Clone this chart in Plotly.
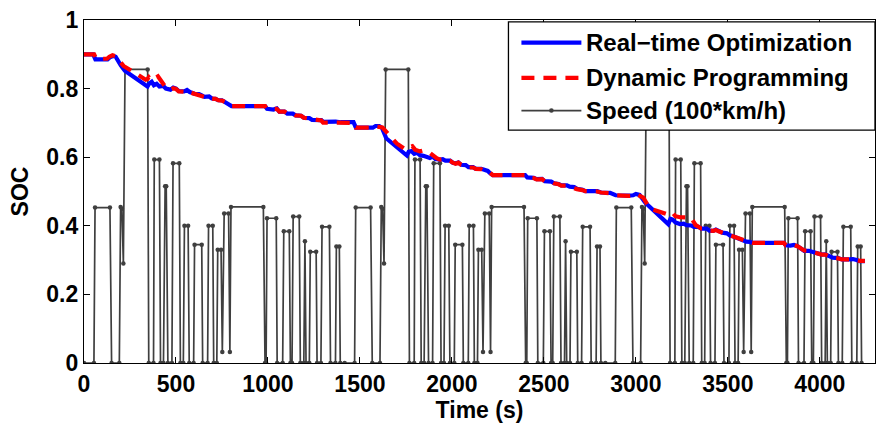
import plotly.graph_objects as go

# ---- drive cycle (one repetition), speed in 100*km/h ----
cycle_length = 1417
n_cycles = 3
cycle_t = [0, 54, 60, 141, 150, 192, 199, 206, 214, 223, 346, 352, 378, 382, 410, 416,
           432, 441, 447, 456, 478, 484, 518, 524, 540, 546, 566, 572, 596, 601, 640, 645,
           672, 677, 700, 705, 722, 727, 745, 752, 762, 786, 793, 799, 975, 984, 990, 995,
           1045, 1050, 1080, 1086, 1116, 1122, 1131, 1137, 1170, 1176, 1195, 1201, 1207,
           1225, 1230, 1262, 1267, 1288, 1294, 1334, 1340, 1367, 1372, 1388, 1393]
cycle_v = [0, 0, 0.453, 0.453, 0, 0, 0.455, 0.45, 0.29, 0.856, 0.856, 0, 0, 0.593, 0.593, 0,
           0, 0.515, 0.515, 0, 0, 0.582, 0.582, 0, 0, 0.40, 0.40, 0, 0, 0.345, 0.345, 0,
           0, 0.40, 0.40, 0, 0, 0.33, 0.33, 0.032, 0.436, 0.436, 0.032, 0.455, 0.455, 0, 0, 0.422,
           0.422, 0, 0, 0.384, 0.384, 0, 0, 0.427, 0.427, 0, 0, 0.355, 0,
           0, 0.324, 0.324, 0, 0, 0.397, 0.397, 0, 0, 0.34, 0.34, 0]

# ---- state of charge, real-time optimization ----
soc_rt_t = [0, 50, 62, 128, 140, 158, 172, 185, 200, 222, 345, 355, 368, 380, 395, 410, 430, 445,
            470, 485, 500, 515, 545, 560, 575, 600, 625, 640, 655, 680, 695, 715, 730, 750, 770,
            790, 802, 984, 995, 1030, 1048, 1062, 1090, 1105, 1135, 1150, 1180, 1195, 1225, 1240,
            1265, 1290, 1300, 1335, 1350, 1368, 1395, 1465, 1478,
            1570, 1585, 1605, 1620, 1643, 1755, 1765, 1780, 1795, 1810, 1825, 1845, 1860, 1880,
            1895, 1910, 1935, 1950, 1965, 1990, 2005, 2020, 2035, 2050, 2075, 2090, 2115, 2130,
            2160, 2175, 2195, 2210, 2222, 2398, 2410, 2445, 2460, 2490, 2505, 2540, 2555, 2580,
            2595, 2625, 2640, 2665, 2680, 2710, 2725, 2790, 2810, 2860, 2875, 2890, 2960, 2985,
            3000, 3020, 3040, 3050,
            3176, 3188, 3200, 3215, 3240, 3260, 3275, 3300, 3315, 3340, 3355, 3385, 3400, 3420,
            3435, 3450, 3470, 3495, 3510, 3525, 3545, 3565, 3585, 3600, 3620, 3636, 3805, 3815,
            3840, 3860, 3880, 3900, 3915, 3940, 3960, 3985, 4010, 4030, 4045, 4070, 4100, 4120,
            4160, 4180, 4200, 4215, 4245]
soc_rt = [0.900, 0.900, 0.885, 0.885, 0.891, 0.895, 0.893, 0.880, 0.868, 0.852, 0.806, 0.815,
          0.820, 0.810, 0.814, 0.806, 0.808, 0.800, 0.797, 0.803, 0.800, 0.793, 0.792, 0.796,
          0.790, 0.785, 0.784, 0.780, 0.776, 0.777, 0.771, 0.770, 0.766, 0.766, 0.760, 0.756,
          0.749, 0.749, 0.741, 0.739, 0.742, 0.733, 0.733, 0.727, 0.727, 0.722, 0.721, 0.715,
          0.714, 0.709, 0.710, 0.708, 0.703, 0.703, 0.706, 0.704, 0.702, 0.702, 0.686,
          0.686, 0.691, 0.691, 0.685, 0.655, 0.605, 0.616, 0.618, 0.610, 0.613, 0.606, 0.604,
          0.600, 0.598, 0.602, 0.595, 0.593, 0.594, 0.590, 0.590, 0.584, 0.582, 0.585, 0.578,
          0.577, 0.571, 0.571, 0.566, 0.566, 0.562, 0.560, 0.552, 0.548, 0.548, 0.541, 0.540,
          0.536, 0.537, 0.530, 0.529, 0.524, 0.522, 0.518, 0.518, 0.514, 0.513, 0.508, 0.505,
          0.501, 0.501, 0.497, 0.496, 0.491, 0.489, 0.488, 0.489, 0.493, 0.490, 0.476, 0.468,
          0.405, 0.420, 0.418, 0.410, 0.405, 0.406, 0.402, 0.401, 0.397, 0.397, 0.392, 0.392,
          0.386, 0.385, 0.389, 0.385, 0.380, 0.378, 0.372, 0.370, 0.366, 0.362, 0.356, 0.354,
          0.353, 0.350, 0.350, 0.343, 0.342, 0.344, 0.340, 0.334, 0.327, 0.327, 0.323, 0.318,
          0.316, 0.317, 0.312, 0.307, 0.306, 0.302, 0.302, 0.303, 0.300, 0.297, 0.297]

# ---- state of charge, dynamic programming ----
soc_dp_t = [0, 55, 66, 125, 138, 155, 170, 190, 215, 240, 270, 300, 335, 345, 352, 362, 375, 390,
            402, 415, 430, 445, 470, 485, 500, 515, 545, 560, 575, 600, 625, 640, 655, 680, 695,
            715, 730, 750, 770, 790, 802, 984, 995, 1030, 1048, 1062, 1090, 1105, 1135, 1150,
            1180, 1195, 1225, 1240, 1265, 1290, 1300, 1335, 1350, 1368, 1395, 1465, 1478,
            1570, 1585, 1605, 1622, 1640, 1700, 1750, 1765, 1785, 1800, 1825, 1845, 1870, 1885,
            1900, 1917, 1935, 1950, 1965, 1990, 2005, 2020, 2035, 2050, 2075, 2090, 2115, 2130,
            2160, 2175, 2195, 2210, 2222, 2398, 2410, 2445, 2460, 2490, 2505, 2540, 2555, 2580,
            2595, 2625, 2640, 2665, 2680, 2710, 2725, 2790, 2810, 2860, 2875, 2890, 2960, 2985,
            3000, 3020, 3040, 3076, 3150, 3170, 3185, 3200, 3215, 3240, 3300, 3325, 3340, 3355,
            3385, 3400, 3420, 3435, 3450, 3470, 3495, 3510, 3525, 3545, 3565, 3585, 3600, 3620,
            3636, 3805, 3815, 3840, 3860, 3880, 3900, 3915, 3940, 3960, 3985, 4010, 4030, 4045,
            4070, 4100, 4120, 4160, 4180, 4200, 4215, 4245]
soc_dp = [0.900, 0.900, 0.887, 0.887, 0.893, 0.897, 0.895, 0.880, 0.866, 0.858, 0.847, 0.838,
          0.826, 0.828, 0.833, 0.826, 0.826, 0.832, 0.836, 0.826, 0.812, 0.803, 0.797, 0.801,
          0.799, 0.792, 0.791, 0.795, 0.789, 0.785, 0.784, 0.780, 0.776, 0.777, 0.771, 0.770,
          0.766, 0.765, 0.760, 0.756, 0.749, 0.749, 0.741, 0.739, 0.741, 0.733, 0.733, 0.728,
          0.727, 0.722, 0.721, 0.715, 0.713, 0.709, 0.709, 0.707, 0.701, 0.701, 0.703, 0.701,
          0.700, 0.700, 0.686, 0.686, 0.690, 0.690, 0.687, 0.676, 0.640, 0.622, 0.628, 0.632,
          0.622, 0.617, 0.620, 0.617, 0.610, 0.603, 0.597, 0.593, 0.594, 0.589, 0.589, 0.584,
          0.581, 0.584, 0.578, 0.576, 0.570, 0.570, 0.566, 0.565, 0.561, 0.560, 0.551, 0.548,
          0.548, 0.541, 0.539, 0.535, 0.536, 0.530, 0.528, 0.524, 0.521, 0.517, 0.517, 0.514,
          0.512, 0.507, 0.504, 0.501, 0.500, 0.497, 0.495, 0.491, 0.489, 0.487, 0.488, 0.493,
          0.489, 0.482, 0.450, 0.438, 0.434, 0.440, 0.438, 0.428, 0.425, 0.424, 0.402, 0.397,
          0.392, 0.391, 0.386, 0.385, 0.388, 0.384, 0.380, 0.377, 0.372, 0.369, 0.366, 0.361,
          0.356, 0.354, 0.352, 0.350, 0.350, 0.343, 0.342, 0.344, 0.340, 0.334, 0.328, 0.327,
          0.324, 0.318, 0.316, 0.316, 0.312, 0.307, 0.305, 0.302, 0.302, 0.303, 0.300, 0.298,
          0.298]

legend_labels = ["Real\u2212time Optimization", "Dynamic Programming", "Speed (100*km/h)"]

# the measured cycle is driven back to back
speed_t = [t + k * cycle_length for k in range(n_cycles) for t in cycle_t]
speed_v = [v for k in range(n_cycles) for v in cycle_v]

FONT = "Liberation Sans, Arial, Helvetica, sans-serif"
BLUE, RED, GRAY = "#0000ff", "#ff0000", "#3f3f3f"
DASH = "13px,9px"

fig = go.Figure()

fig.add_trace(go.Scatter(
    x=soc_rt_t, y=soc_rt, mode="lines", name=legend_labels[0],
    line=dict(color=BLUE, width=4.2), zorder=1, showlegend=False,
))
fig.add_trace(go.Scatter(
    x=soc_dp_t, y=soc_dp, mode="lines", name=legend_labels[1],
    line=dict(color=RED, width=4.2, dash=DASH), zorder=2, showlegend=False,
))
fig.add_trace(go.Scatter(
    x=speed_t, y=speed_v, mode="lines+markers", name=legend_labels[2],
    line=dict(color=GRAY, width=1.7),
    marker=dict(color=GRAY, size=4.5), zorder=0, showlegend=False,
))

axis_common = dict(
    showline=True, linecolor="black", linewidth=1.3, mirror="allticks",
    ticks="inside", ticklen=6, tickcolor="black", tickwidth=1,
    showgrid=False, zeroline=False,
    tickfont=dict(family=FONT, size=23, color="black", weight="bold"),
)

fig.update_xaxes(range=[0, 4300], tickmode="linear", tick0=0, dtick=500,
                 title=dict(text="Time (s)", standoff=4,
                            font=dict(family=FONT, size=23, color="black", weight="bold")),
                 **axis_common)
fig.update_yaxes(range=[0, 1], tickmode="linear", tick0=0, dtick=0.2,
                 ticklabelstandoff=0,
                 title=dict(text="SOC", standoff=11,
                            font=dict(family=FONT, size=23, color="black", weight="bold")),
                 **axis_common)

# ---- legend box in the upper right corner of the axes (paper coordinates) ----
box_x0, box_x1, box_y0, box_y1 = 0.5366, 1.0, 0.679, 0.9943
row_y = [0.934, 0.831, 0.736]
sample_x0, sample_x1, text_x = 0.553, 0.6288, 0.6326

shapes = [dict(type="rect", xref="paper", yref="paper", layer="above",
               x0=box_x0, x1=box_x1, y0=box_y0, y1=box_y1,
               fillcolor="white", line=dict(color="black", width=1.3))]
sample_styles = [dict(color=BLUE, width=4.2),
                 dict(color=RED, width=4.2, dash=DASH),
                 dict(color=GRAY, width=1.7)]
for y, style in zip(row_y, sample_styles):
    shapes.append(dict(type="line", xref="paper", yref="paper", layer="above",
                       x0=sample_x0, x1=sample_x1, y0=y, y1=y, line=style))
mid_x = (sample_x0 + sample_x1) / 2
shapes.append(dict(type="circle", xref="paper", yref="paper", layer="above",
                   xsizemode="pixel", ysizemode="pixel",
                   xanchor=mid_x, yanchor=row_y[2],
                   x0=-2.3, x1=2.3, y0=-2.3, y1=2.3,
                   fillcolor=GRAY, line=dict(color=GRAY, width=0)))

annotations = [dict(xref="paper", yref="paper", x=text_x, y=y, text=label,
                    showarrow=False, xanchor="left", yanchor="middle",
                    font=dict(family=FONT, size=24, color="black", weight="bold"))
               for y, label in zip(row_y, legend_labels)]

fig.update_layout(
    width=883, height=433,
    margin=dict(l=84, r=7, t=14, b=70),
    plot_bgcolor="white", paper_bgcolor="white",
    showlegend=False,
    shapes=shapes,
    annotations=annotations,
)

fig.write_html("out.html")
